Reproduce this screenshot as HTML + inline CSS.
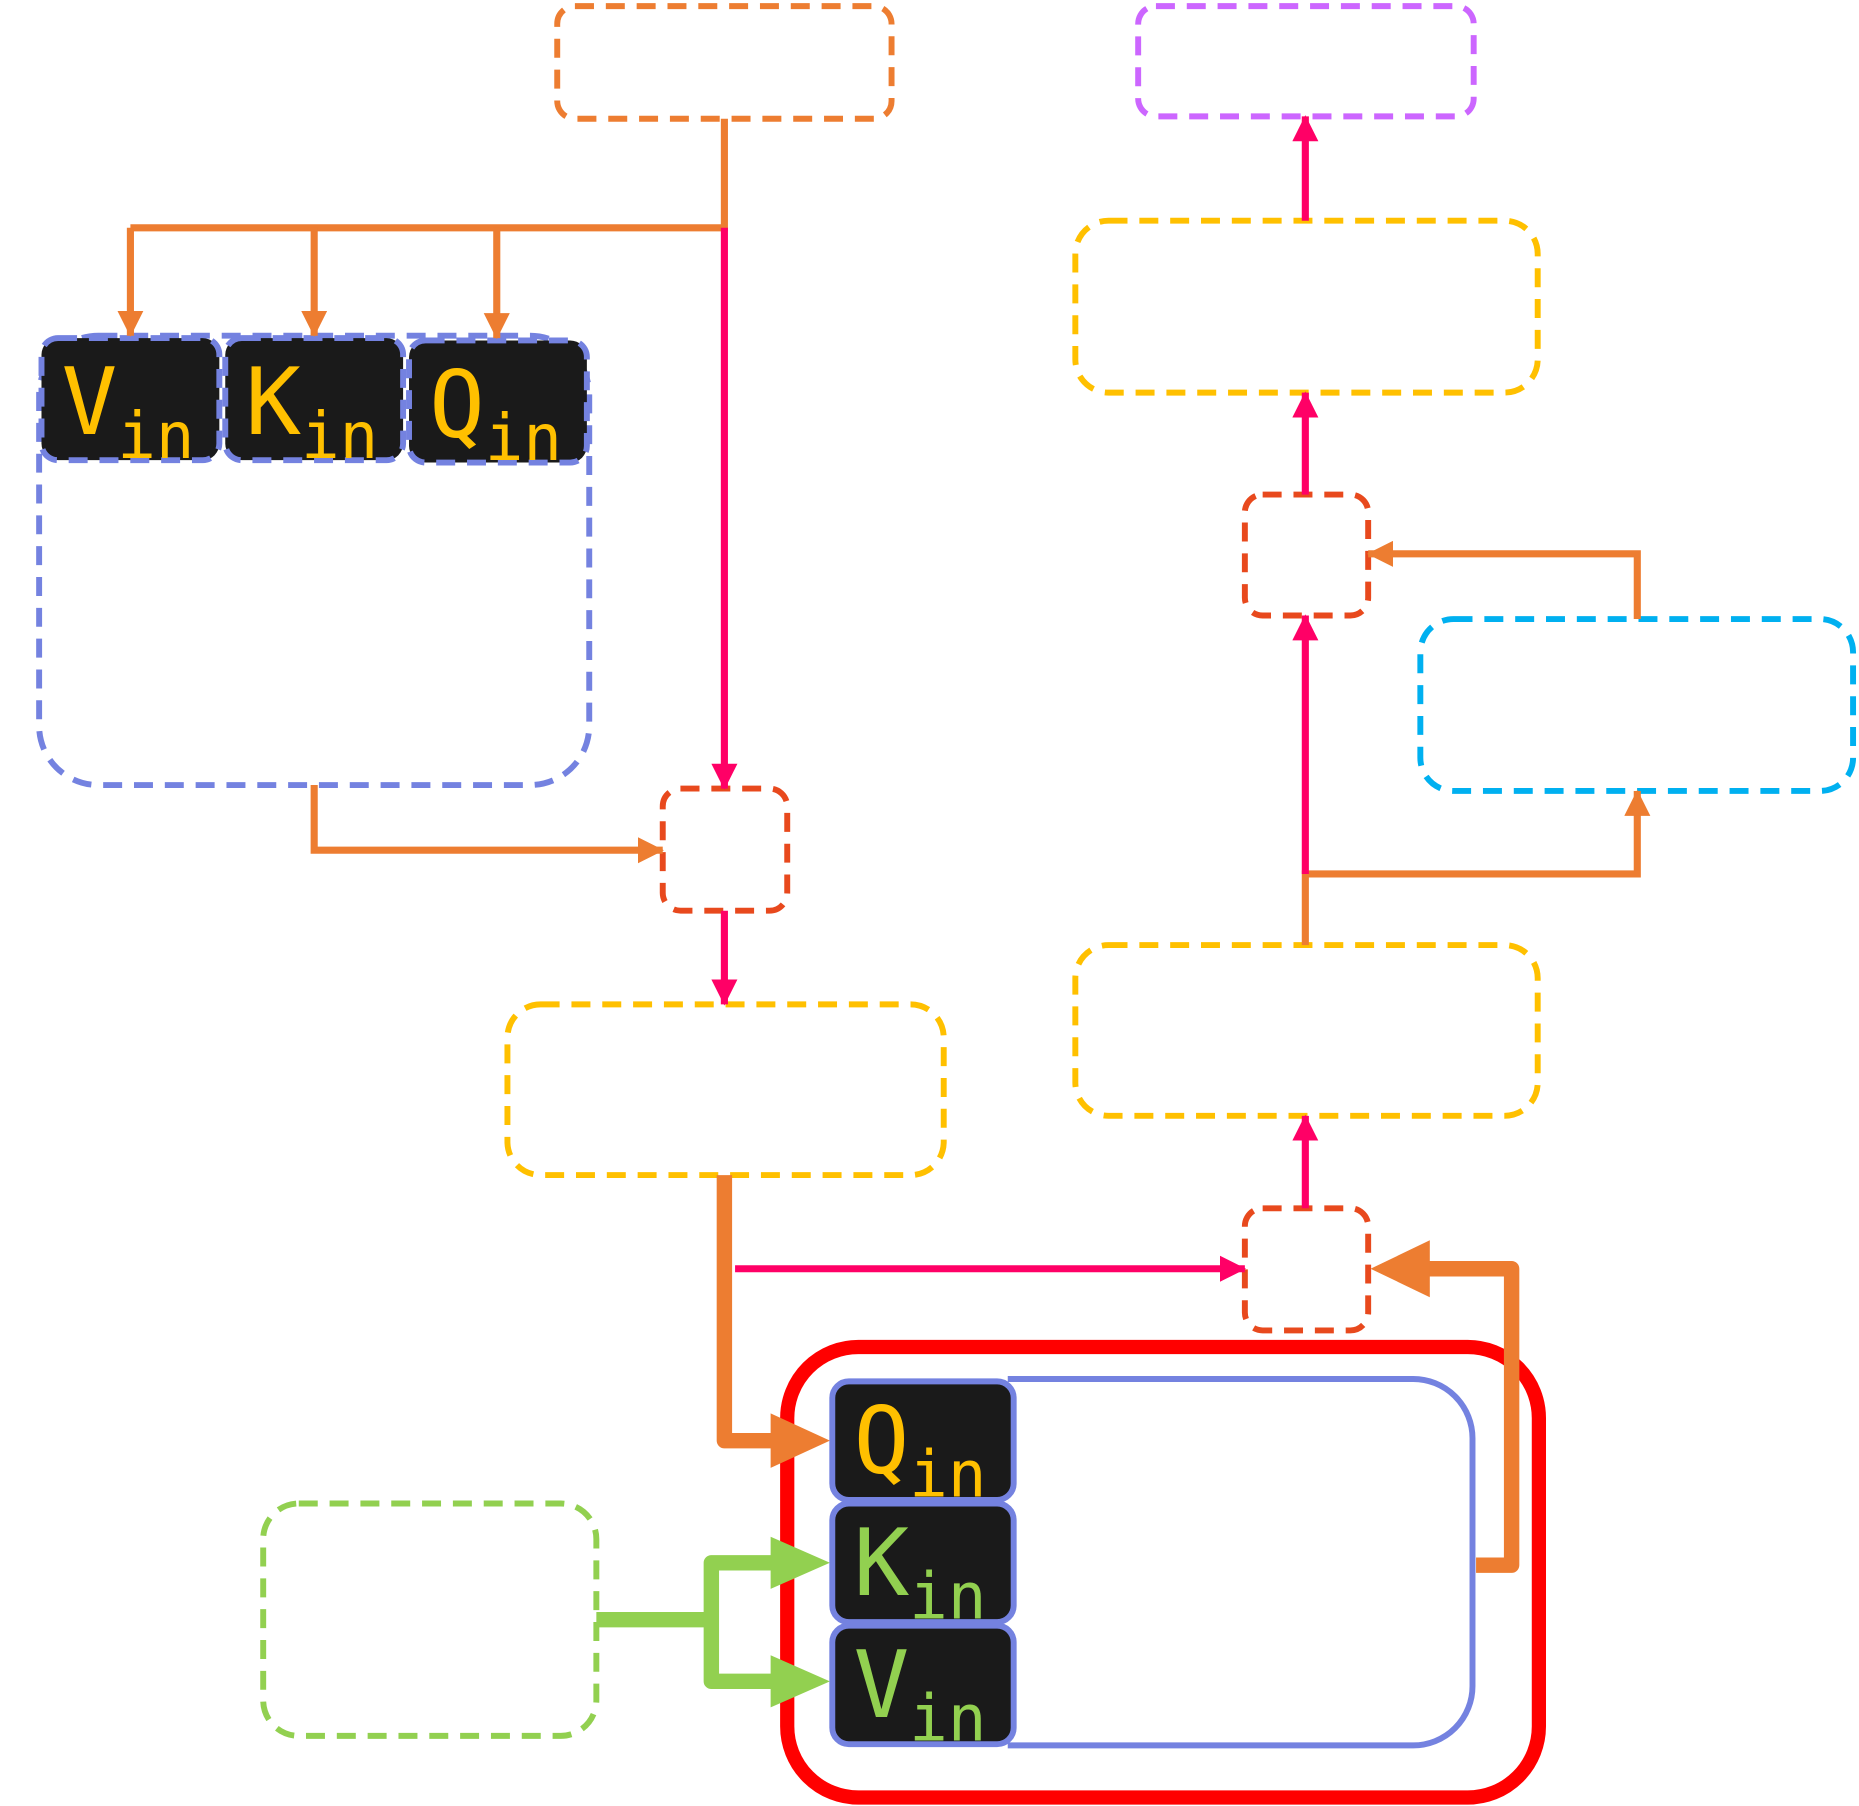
<!DOCTYPE html>
<html><head><meta charset="utf-8"><style>
html,body{margin:0;padding:0;background:#fff;}
svg{display:block;}
text{font-family:"DejaVu Sans Mono","Liberation Mono",monospace;}
</style></head><body>
<svg width="1859" height="1806" viewBox="0 0 1568 1523" xmlns="http://www.w3.org/2000/svg">
<defs>
<marker id="ao" markerWidth="22" markerHeight="22" refX="21" refY="11" orient="auto" markerUnits="userSpaceOnUse"><path d="M0,0 L22,11 L0,22z" fill="#ED7D31"/></marker>
<marker id="ap" markerWidth="22" markerHeight="22" refX="21" refY="11" orient="auto" markerUnits="userSpaceOnUse"><path d="M0,0 L22,11 L0,22z" fill="#FF0066"/></marker>
</defs>
<g fill="none" stroke-width="5" stroke-dasharray="16,10">
<rect x="470" y="5" width="282" height="95" rx="15" stroke="#ED7D31"/>
<rect x="960" y="5" width="283" height="93" rx="15" stroke="#CC66FF"/>
<rect x="907" y="186" width="390" height="145" rx="28" stroke="#FFC000"/>
<rect x="1050" y="417" width="104" height="102" rx="15" stroke="#E8491D"/>
<rect x="1198" y="522" width="365" height="145" rx="28" stroke="#00B0F0"/>
<rect x="907" y="797" width="390" height="144" rx="28" stroke="#FFC000"/>
<rect x="1050" y="1019" width="104" height="103" rx="15" stroke="#E8491D"/>
<rect x="428" y="847" width="368" height="144" rx="28" stroke="#FFC000"/>
<rect x="559" y="665" width="105" height="103" rx="15" stroke="#E8491D"/>
<rect x="33" y="283" width="464" height="379" rx="50" stroke="#7482E0"/>
<rect x="222" y="1268" width="281" height="196" rx="30" stroke="#92D050"/>
</g>
<g stroke="#7482E0" stroke-width="5" stroke-dasharray="16,10" fill="#1a1a1a">
<rect x="35" y="285" width="150" height="103" rx="14"/>
<rect x="190" y="285" width="150" height="103" rx="14"/>
<rect x="345" y="287" width="150" height="103" rx="14"/>
</g>
<rect x="664" y="1136" width="634" height="380" rx="60" fill="none" stroke="#FF0000" stroke-width="12"/>
<path d="M850,1163 H1192 a50,50 0 0 1 50,50 V1422 a50,50 0 0 1 -50,50 H850" fill="none" stroke="#7482E0" stroke-width="5"/>
<g stroke="#7482E0" stroke-width="5" fill="#1a1a1a">
<rect x="702" y="1165" width="153" height="100" rx="14"/>
<rect x="702" y="1268" width="153" height="100" rx="14"/>
<rect x="702" y="1371" width="153" height="100" rx="14"/>
</g>
<g font-size="78" fill="#FFC000">
<text x="52" y="366">V<tspan font-size="54" dy="20">in</tspan></text>
<text x="207" y="366">K<tspan font-size="54" dy="20">in</tspan></text>
<text x="362" y="368">Q<tspan font-size="54" dy="20">in</tspan></text>
<text x="720" y="1242">Q<tspan font-size="54" dy="20">in</tspan></text>
</g>
<g font-size="78" fill="#92D050">
<text x="720" y="1345">K<tspan font-size="54" dy="20">in</tspan></text>
<text x="720" y="1448">V<tspan font-size="54" dy="20">in</tspan></text>
</g>
<g fill="none" stroke="#ED7D31" stroke-width="6">
<polyline points="611,100 611,192 110,192"/>
<line x1="110" y1="192" x2="110" y2="283" marker-end="url(#ao)"/>
<line x1="265" y1="192" x2="265" y2="283" marker-end="url(#ao)"/>
<line x1="419" y1="192" x2="419" y2="285" marker-end="url(#ao)"/>
<polyline points="265,662 265,717 559,717" marker-end="url(#ao)"/>
<polyline points="1101,797 1101,737 1381,737 1381,667" marker-end="url(#ao)"/>
<polyline points="1381,522 1381,467 1154,467" marker-end="url(#ao)"/>
</g>
<g fill="none" stroke="#ED7D31" stroke-width="13" stroke-linejoin="round">
<polyline points="611,991 611,1215 660,1215"/>
<polyline points="1245,1320 1275,1320 1275,1070 1200,1070"/>
</g>
<path d="M650,1192 L700,1215 L650,1238z" fill="#ED7D31"/>
<path d="M1206,1046 L1156,1070 L1206,1094z" fill="#ED7D31"/>
<g fill="none" stroke="#92D050" stroke-width="13" stroke-linejoin="round">
<line x1="503" y1="1366" x2="600" y2="1366"/>
<polyline points="660,1318 600,1318 600,1418 660,1418"/>
</g>
<path d="M650,1296 L700,1318 L650,1340z" fill="#92D050"/>
<path d="M650,1396 L700,1418 L650,1440z" fill="#92D050"/>
<g fill="none" stroke="#FF0066" stroke-width="6">
<line x1="611" y1="192" x2="611" y2="665" marker-end="url(#ap)"/>
<line x1="611" y1="768" x2="611" y2="847" marker-end="url(#ap)"/>
<line x1="620" y1="1070" x2="1050" y2="1070" marker-end="url(#ap)"/>
<line x1="1101" y1="1019" x2="1101" y2="941" marker-end="url(#ap)"/>
<line x1="1101" y1="737" x2="1101" y2="519" marker-end="url(#ap)"/>
<line x1="1101" y1="417" x2="1101" y2="331" marker-end="url(#ap)"/>
<line x1="1101" y1="186" x2="1101" y2="98" marker-end="url(#ap)"/>
</g>
</svg>
</body></html>
